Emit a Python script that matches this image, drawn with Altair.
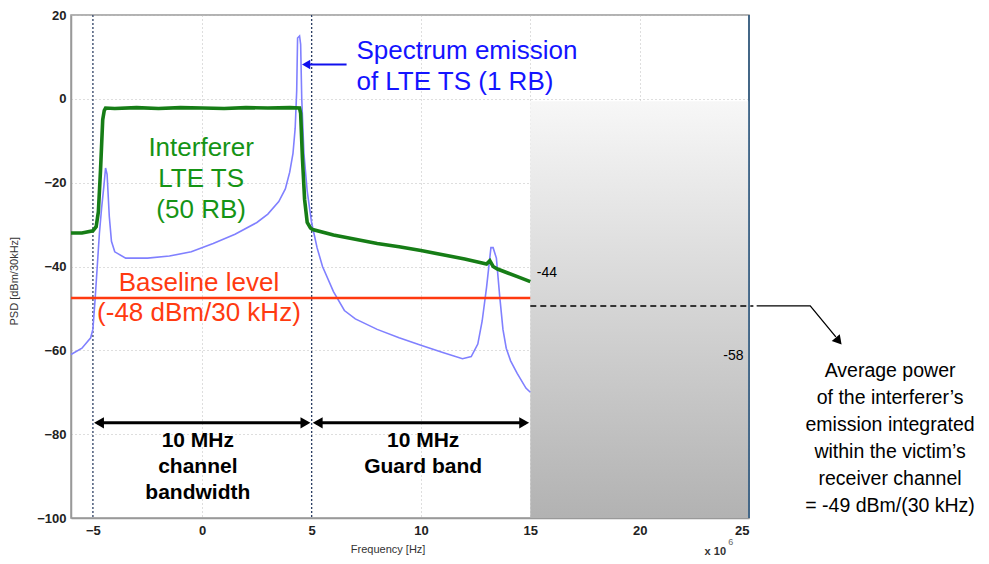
import altair as alt
import pandas as pd

# ---------------- data ----------------
green_f = [-6, -5.5, -5.0, -4.85, -4.75, -4.65, -4.55, -4.48, -4.42, -4.0, -3.0, -2.0, -1.0, 0.0, 1.0, 2.0, 3.0, 4.0, 4.45,
           4.5, 4.58, 4.68, 4.8, 4.95, 5.05, 6.0, 7.0, 8.0, 9.0, 10.0, 11.0, 12.0, 13.0, 13.15, 13.3, 13.5, 14.0, 14.5, 15.0]
green_v = [-32, -32, -31.5, -30.5, -27, -17, -5, -2.8, -2.2, -2.3, -2.1, -2.3, -2.1, -2.2, -2.3, -2.1, -2.2, -2.1, -2.2,
           -3.5, -14, -24, -29.5, -30.8, -31.2, -32.5, -33.5, -34.5, -35.3, -36.2, -37.2, -38.2, -39.4, -38.6, -40, -40.6, -41.6, -42.6, -43.6]

blue_f = [-6, -5.5, -5.1, -5.0, -4.9, -4.8, -4.7, -4.6, -4.5, -4.42, -4.35, -4.25, -4.15, -4.0, -3.5, -2.5, -1.5, -0.5, 0.5,
          1.5, 2.5, 3.0, 3.5, 3.8, 4.0, 4.15, 4.25, 4.32, 4.36, 4.45, 4.5, 4.55, 4.65, 4.8, 5.0, 5.25, 5.5, 6.0, 6.5, 7.0,
          8.0, 9.0, 10.0, 11.0, 11.9, 12.3, 12.6, 12.8, 13.0, 13.2, 13.3, 13.45, 13.6, 13.75, 13.9, 14.1, 14.4, 14.8, 15.0]
blue_v = [-61, -59.5, -57, -55, -48, -40, -32, -26, -21, -16.5, -18, -28, -34, -36.5, -38, -38, -37.5, -36.5, -34.5,
          -32.3, -29.5, -27.5, -24.5, -21.5, -17.5, -13, -7, 2, 14.5, 15, 13, 0, -13, -22, -29.5, -35.5, -40, -46, -50.5, -52.5,
          -55, -57, -58.8, -60.5, -62, -61.5, -58.5, -53, -45, -35.5, -35.5, -38, -47, -55, -59.5, -62.5, -65.5, -69, -70]

baseline_level = -47.5
avg_power_level = -49.4
box_x = [15, 25]
box_y = [-100, -0.6]
channel_edges = [-5, 5]
arrow_y = -77.3

x_ticks = [-5, 0, 5, 10, 15, 20, 25]
y_ticks = [-100, -80, -60, -40, -20, 0, 20]

FONT = "Liberation Sans"

xs = alt.Scale(domain=[-6, 25], nice=False, zero=False)
ys = alt.Scale(domain=[-100, 20], nice=False, zero=False)

# ---------------- base axes ----------------
axes_df = pd.DataFrame({"f": [-6, 25], "v": [-100, 20]})
base = alt.Chart(axes_df).mark_point(opacity=0).encode(
    x=alt.X("f:Q", scale=xs, axis=alt.Axis(values=x_ticks, title=None, grid=True, ticks=False,
                                           labelPadding=6, labelFontWeight="bold", labelFontSize=13,
                                           labelColor="#222", labelFont=FONT, domainColor="#999",
                                           domainWidth=1.5)),
    y=alt.Y("v:Q", scale=ys, axis=alt.Axis(values=y_ticks, title=None, grid=True, ticks=False,
                                           labelPadding=5, labelFontWeight="bold", labelFontSize=13,
                                           labelColor="#222", labelFont=FONT, domainColor="#999",
                                           domainWidth=1.5)),
)

# gray gradient box
box_df = pd.DataFrame({"x": [box_x[0]], "x2": [box_x[1]], "y": [box_y[0]], "y2": [box_y[1]]})
box = alt.Chart(box_df).mark_rect(
    color=alt.Gradient(gradient="linear",
                       stops=[alt.GradientStop(color="#f7f7f7", offset=0),
                              alt.GradientStop(color="#b2b2b2", offset=1)],
                       x1=0, x2=0, y1=0, y2=1)
).encode(x=alt.X("x:Q", scale=xs), x2="x2", y=alt.Y("y:Q", scale=ys), y2="y2")

# channel edge dotted lines
edge_df = pd.DataFrame({"f": channel_edges})
edges = alt.Chart(edge_df).mark_rule(color="#2b3f66", strokeDash=[2, 2], strokeWidth=1.2).encode(
    x=alt.X("f:Q", scale=xs))
right_edge = alt.Chart(pd.DataFrame({"f": [25]})).mark_rule(color="#1f4e79", strokeWidth=1.5).encode(
    x=alt.X("f:Q", scale=xs))

blue_df = pd.DataFrame({"f": blue_f, "v": blue_v})
blue = alt.Chart(blue_df).mark_line(color="#8080ff", strokeWidth=1.6).encode(
    x=alt.X("f:Q", scale=xs), y=alt.Y("v:Q", scale=ys), order="f:Q")

green_df = pd.DataFrame({"f": green_f, "v": green_v})
green = alt.Chart(green_df).mark_line(color="#167d16", strokeWidth=3.6).encode(
    x=alt.X("f:Q", scale=xs), y=alt.Y("v:Q", scale=ys), order="f:Q")

red_df = pd.DataFrame({"x": [-6], "x2": [15], "y": [baseline_level]})
red = alt.Chart(red_df).mark_rule(color="#ff3a10", strokeWidth=2.5).encode(
    x=alt.X("x:Q", scale=xs), x2="x2", y=alt.Y("y:Q", scale=ys))

dash_df = pd.DataFrame({"x": [15], "x2": [25.2], "y": [avg_power_level]})
dash = alt.Chart(dash_df).mark_rule(color="black", strokeWidth=1.5, strokeDash=[6, 4]).encode(
    x=alt.X("x:Q", scale=xs), x2="x2", y=alt.Y("y:Q", scale=ys))

# pointer from dashed line to the note
ptr_df = pd.DataFrame({"f": [25.35, 27.8, 28.97], "v": [avg_power_level, avg_power_level, -56.8], "o": [0, 1, 2]})
ptr = alt.Chart(ptr_df).mark_line(color="black", strokeWidth=1.3, clip=False).encode(
    x=alt.X("f:Q", scale=xs), y=alt.Y("v:Q", scale=ys), order="o:Q")
ptr_head = alt.Chart(pd.DataFrame({"f": [29.1], "v": [-57.8]})).mark_point(
    shape="triangle-right", filled=True, color="black", opacity=1, size=110, angle=50, clip=False
).encode(x=alt.X("f:Q", scale=xs), y=alt.Y("v:Q", scale=ys))

# double-headed arrows
arr_df = pd.DataFrame({"x": [-4.8, 5.2], "x2": [4.8, 14.8], "y": [arrow_y, arrow_y]})
arr = alt.Chart(arr_df).mark_rule(color="black", strokeWidth=3).encode(
    x=alt.X("x:Q", scale=xs), x2="x2", y=alt.Y("y:Q", scale=ys))
heads_df = pd.DataFrame({"f": [-4.72, 4.72, 5.28, 14.72], "v": [arrow_y] * 4,
                         "s": ["triangle-left", "triangle-right", "triangle-left", "triangle-right"]})
heads = alt.Chart(heads_df).mark_point(filled=True, color="black", opacity=1, size=130).encode(
    x=alt.X("f:Q", scale=xs), y=alt.Y("v:Q", scale=ys),
    shape=alt.Shape("s:N", scale=alt.Scale(domain=["triangle-left", "triangle-right"],
                                           range=["triangle-left", "triangle-right"]), legend=None))

# blue arrow to the peak
barr_df = pd.DataFrame({"x": [4.85], "x2": [6.6], "y": [8.2]})
barr = alt.Chart(barr_df).mark_rule(color="#1010ee", strokeWidth=2).encode(
    x=alt.X("x:Q", scale=xs), x2="x2", y=alt.Y("y:Q", scale=ys))
bhead = alt.Chart(pd.DataFrame({"f": [4.75], "v": [8.2]})).mark_point(
    shape="triangle-left", filled=True, color="#1010ee", opacity=1, size=90
).encode(x=alt.X("f:Q", scale=xs), y=alt.Y("v:Q", scale=ys))


def label(text, f, v, color="black", size=26, weight="normal", align="center", baseline="middle",
          line_height=None, angle=0):
    kw = dict(align=align, baseline=baseline, font=FONT, fontSize=size, fontWeight=weight, color=color,
              lineBreak="\n", clip=False)
    if line_height:
        kw["lineHeight"] = line_height
    if angle:
        kw["angle"] = angle
    df = pd.DataFrame({"f": [f], "v": [v], "t": [text]})
    return alt.Chart(df).mark_text(**kw).encode(
        x=alt.X("f:Q", scale=xs), y=alt.Y("v:Q", scale=ys), text="t:N")


# (v = position of the first line of each block)
texts = [
    label("Spectrum emission\nof LTE TS (1 RB)", 7.05, 11.4, color="#1414ff", align="left", line_height=31),
    label("Interferer\nLTE TS\n(50 RB)", -0.05, -11.8, color="#159415", line_height=31),
    label("Baseline level\n(-48 dBm/30 kHz)", -0.15, -44.0, color="#ff3a10", line_height=30),
    label("10 MHz\nchannel\nbandwidth", -0.2, -81.6, size=21, weight="bold", line_height=26),
    label("10 MHz\nGuard band", 10.1, -81.6, size=21, weight="bold", line_height=26),
    label("-44", 15.3, -41.6, size=14, align="left"),
    label("-58", 24.75, -61.3, size=14, align="right"),
    label("Average power\nof the interferer\u2019s\nemission integrated\nwithin the victim\u2019s\nreceiver channel\n= -49 dBm/(30 kHz)",
          31.45, -64.9, size=19.5, line_height=27),
    label("Frequency [Hz]", 8.5, -107.6, size=11, color="#333"),
    label("PSD [dBm/30kHz]", -8.55, -43.5, size=11, color="#333", angle=270),
    label("x 10", 23.95, -108.0, size=11, color="#333", weight="bold", align="right"),
    label("6", 24.05, -105.8, size=9, color="#666", align="left"),
]

chart = alt.layer(base, box, edges, right_edge, blue, green, red, dash, ptr, ptr_head, arr, heads,
                  barr, bhead, *texts).properties(
    width=678, height=503,
    padding={"left": 63, "top": 7, "right": 228, "bottom": 38},
    autosize=alt.AutoSizeParams(type="none"),
).configure_view(stroke="#999999", strokeWidth=1.5).configure_axis(
    gridColor="#bdbdbd", gridDash=[1, 3], gridWidth=1
)

chart.save("out.html", embed_options={"renderer": "svg", "actions": False})
